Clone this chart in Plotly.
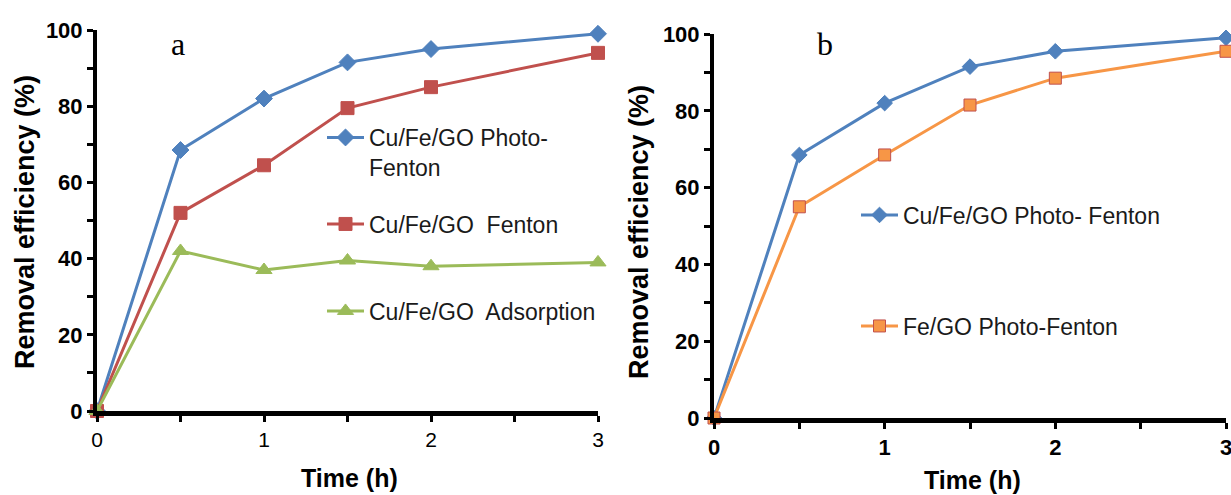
import plotly.graph_objects as go

# ---- data ----
time_h = [0, 0.5, 1, 1.5, 2, 3]

a_photo_fenton = [0, 68.5, 82, 91.5, 95, 99]
a_fenton = [0, 52, 64.5, 79.5, 85, 94]
a_adsorption = [0, 42, 37, 39.5, 38, 39]

b_cu_photo_fenton = [0, 68.5, 82, 91.5, 95.5, 99]
b_fe_photo_fenton = [0, 55, 68.5, 81.5, 88.5, 95.5]

x_tickvals = [0, 0.5, 1, 1.5, 2, 2.5, 3]
x_ticktext = ["0", "", "1", "", "2", "", "3"]
y_tickvals = [0, 10, 20, 30, 40, 50, 60, 70, 80, 90, 100]
y_ticktext = ["0", "", "20", "", "40", "", "60", "", "80", "", "100"]

BLUE = "#4F81BD"
RED = "#C0504D"
GREEN = "#9BBB59"
ORANGE = "#F79646"
W, H = 1231, 495

fig = go.Figure()

def add(x, y, name, color, symbol, size, xa, ya, legend, line_color=None):
    fig.add_trace(go.Scatter(
        x=x, y=y, name=name, mode="lines+markers",
        line=dict(color=color, width=3),
        marker=dict(symbol=symbol, size=size, color=color,
                    line=dict(color=line_color or color, width=1)),
        xaxis=xa, yaxis=ya, legend=legend, cliponaxis=False,
    ))

add(time_h, a_photo_fenton, "Cu/Fe/GO Photo-<br>Fenton", BLUE, "diamond", 13, "x", "y", "legend")
add(time_h, a_fenton, "Cu/Fe/GO  Fenton", RED, "square", 13, "x", "y", "legend2")
add(time_h, a_adsorption, "Cu/Fe/GO  Adsorption", GREEN, "triangle-up", 14, "x", "y", "legend3")
add(time_h, b_cu_photo_fenton, "Cu/Fe/GO Photo- Fenton", BLUE, "diamond", 12, "x2", "y2", "legend4")
add(time_h, b_fe_photo_fenton, "Fe/GO Photo-Fenton", ORANGE, "square", 12, "x2", "y2", "legend5", RED)

def px_x(p):
    return p / W

def px_y(p):
    return 1 - p / H

axis_common = dict(showline=True, linecolor="black", showgrid=False, zeroline=False,
                   ticks="outside", tickcolor="black", automargin=False,
                   ticklabeloverflow="allow")

FONT = "Liberation Sans, Arial"
bold_tick = dict(family=FONT, size=22, color="black")
reg_tick = dict(family=FONT, size=21, color="black")

fig.update_layout(
    width=W, height=H, margin=dict(l=0, r=0, t=0, b=0, autoexpand=False),
    paper_bgcolor="white", plot_bgcolor="white", showlegend=True,
    xaxis=dict(domain=[px_x(97), px_x(598)], range=[0, 3], anchor="y",
               tickvals=x_tickvals, ticktext=x_ticktext, linewidth=5, ticklen=6, tickwidth=3,
               tickfont=reg_tick, **axis_common),
    yaxis=dict(domain=[px_y(411), px_y(30)], range=[0, 100], anchor="x",
               tickvals=y_tickvals, ticktext=[f"<b>{t}</b>" for t in y_ticktext], linewidth=4,
               ticklen=6, tickwidth=3, tickfont=bold_tick, **axis_common),
    xaxis2=dict(domain=[px_x(714), px_x(1226)], range=[0, 3], anchor="y2",
                tickvals=x_tickvals, ticktext=[f"<b>{t}</b>" for t in x_ticktext], linewidth=5,
                ticklen=6, tickwidth=3, tickfont=bold_tick, **axis_common),
    yaxis2=dict(domain=[px_y(418), px_y(34)], range=[0, 100], anchor="x2",
                tickvals=y_tickvals, ticktext=[f"<b>{t}</b>" for t in y_ticktext], linewidth=4,
                ticklen=6, tickwidth=3, tickfont=bold_tick, **axis_common),
)

leg_font = dict(family=FONT, size=23, color="#1a1a1a")
def leg(xp, yp, yanchor="middle"):
    return dict(x=px_x(xp), y=px_y(yp), xanchor="left", yanchor=yanchor, xref="paper", yref="paper",
                bgcolor="rgba(0,0,0,0)", font=leg_font, itemwidth=37, borderwidth=0, valign="top")

fig.update_layout(
    legend=leg(322, 116, "top"),
    legend2=leg(322, 224),
    legend3=leg(322, 311),
    legend4=leg(856, 215),
    legend5=leg(856, 326),
)

# axis titles
title_font = dict(family=FONT, size=27, color="black")
def title(text, xp, yp, angle=0):
    fig.add_annotation(text=f"<b>{text}</b>", x=px_x(xp), y=px_y(yp), xref="paper", yref="paper",
                       xanchor="center", yanchor="middle", showarrow=False, textangle=angle,
                       font=title_font)

xt_font_size = 25
for xp, yp in [(349, 478), (972, 480)]:
    fig.add_annotation(text="<b>Time (h)</b>", x=px_x(xp), y=px_y(yp), xref="paper", yref="paper",
                       xanchor="center", yanchor="middle", showarrow=False,
                       font=dict(family=FONT, size=xt_font_size, color="black"))
title("Removal efficiency (%)", 25, 222, -90)
title("Removal efficiency (%)", 639, 232, -90)

fig.add_annotation(text="a", x=px_x(169), y=px_y(24), xref="paper", yref="paper",
                   showarrow=False, font=dict(family="Liberation Serif, Times New Roman", size=32, color="black"))
fig.add_annotation(text="b", x=px_x(835), y=px_y(24), xref="paper", yref="paper",
                   showarrow=False, font=dict(family="Liberation Serif, Times New Roman", size=32, color="black"))

fig.write_html("out.html")
